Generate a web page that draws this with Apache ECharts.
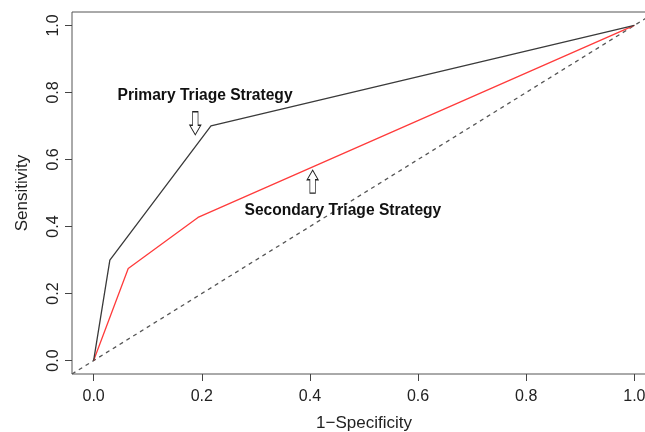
<!DOCTYPE html>
<html>
<head>
<meta charset="utf-8">
<script src="https://cdn.jsdelivr.net/npm/echarts@6/dist/echarts.min.js"></script>
<style>
  html, body { margin: 0; padding: 0; background: #fff; }
  #chart { width: 645px; height: 432px; }
</style>
</head>
<body>
<div id="chart"></div>
<script>
// ROC points: [1-specificity, sensitivity]
const primaryRoc = [[0, 0], [0.03, 0.30], [0.217, 0.70], [1, 1]];
const secondaryRoc = [[0, 0], [0.064, 0.275], [0.193, 0.427], [1, 1]];
const chanceLine = [[-0.04, -0.04], [1.04, 1.04]];
const tickValues = [0, 0.2, 0.4, 0.6, 0.8, 1.0];

// annotation anchors (data coords)
const primaryLabel = { text: 'Primary Triage Strategy', coord: [0.206, 0.789] };
const primaryArrow = [0.188, 0.708];
const secondaryLabel = { text: 'Secondary Triage Strategy', coord: [0.461, 0.447] };
const secondaryArrow = [0.405, 0.534];

const FONT = '"Liberation Sans", Arial, Helvetica, sans-serif';
const downArrow = 'path://M3 0 L9 0 L9 14 L12 14 L6 24 L0 14 L3 14 Z';
const upArrow = 'path://M6 0 L12 10 L9 10 L9 24 L3 24 L3 10 L0 10 Z';

const chart = echarts.init(document.getElementById('chart'));

const axisCommon = {
  type: 'value',
  min: -0.04,
  max: 1.04,
  splitLine: { show: false },
  axisLine: { show: false, onZero: false },
  axisTick: { show: true, customValues: tickValues, length: 7, lineStyle: { color: '#444' } },
  nameLocation: 'middle',
  nameTextStyle: { fontFamily: FONT, fontSize: 17, color: '#222' }
};

const textMark = (lbl) => ({
  coord: lbl.coord,
  symbol: 'rect',
  symbolSize: 1,
  itemStyle: { color: 'rgba(0,0,0,0)' },
  label: {
    show: true, position: 'inside', formatter: lbl.text,
    fontFamily: FONT, fontWeight: 'bold', fontSize: 15.6, color: '#111'
  }
});

const arrowMark = (coord, sym) => ({
  coord: coord,
  symbol: sym,
  symbolSize: [11, 23],
  itemStyle: { color: '#fff', borderColor: '#222', borderWidth: 1 },
  label: { show: false }
});

chart.setOption({
  animation: false,
  backgroundColor: '#fff',
  grid: {
    left: 72, top: 12, width: 584, height: 362,
    outerBoundsMode: 'none',
    show: true, borderColor: '#555', borderWidth: 1
  },
  xAxis: Object.assign({}, axisCommon, {
    name: '1\u2212Specificity',
    nameGap: 41,
    axisLabel: {
      customValues: tickValues, formatter: v => v.toFixed(1),
      fontFamily: FONT, fontSize: 16, color: '#222', margin: 15
    }
  }),
  yAxis: Object.assign({}, axisCommon, {
    name: 'Sensitivity',
    nameGap: 41,
    axisLabel: {
      customValues: tickValues, formatter: v => v.toFixed(1), rotate: 90,
      fontFamily: FONT, fontSize: 16, color: '#222', margin: 10
    }
  }),
  series: [
    {
      type: 'line', data: chanceLine, symbol: 'none', silent: true,
      lineStyle: { color: '#555', width: 1.3, type: [4, 4] }
    },
    {
      type: 'line', data: secondaryRoc, symbol: 'none',
      lineStyle: { color: '#ff3b3b', width: 1.3 }
    },
    {
      type: 'line', data: primaryRoc, symbol: 'none',
      lineStyle: { color: '#3a3a3a', width: 1.3 },
      markPoint: {
        silent: true,
        data: [
          textMark(primaryLabel),
          arrowMark(primaryArrow, downArrow),
          textMark(secondaryLabel),
          arrowMark(secondaryArrow, upArrow)
        ]
      }
    }
  ]
});

window.addEventListener('resize', () => chart.resize());
</script>
</body>
</html>
